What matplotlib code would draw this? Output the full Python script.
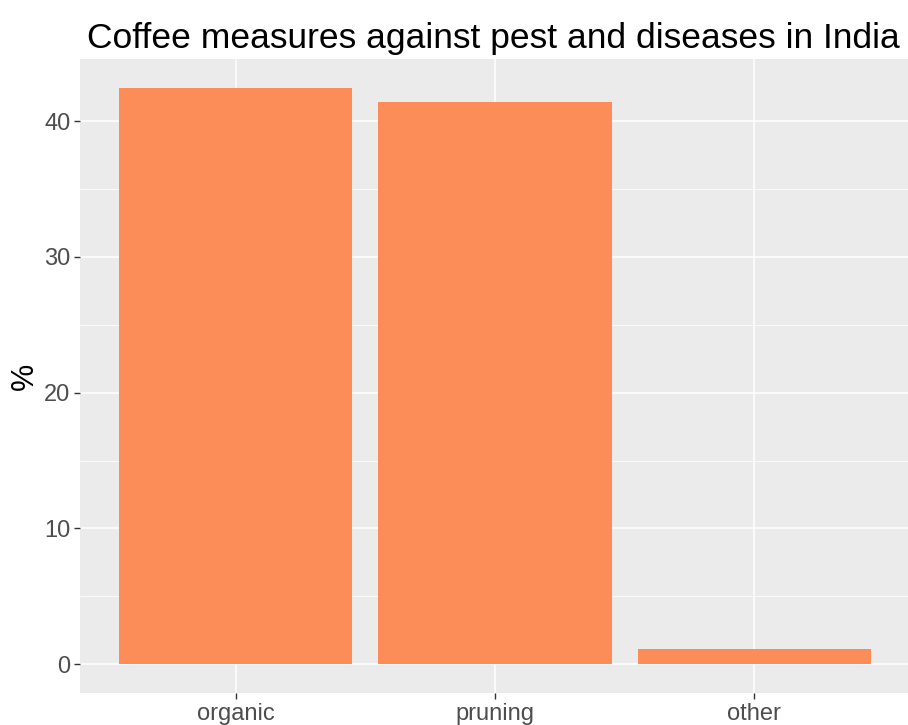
import matplotlib.pyplot as plt
import numpy as np

plt.rcParams['font.family'] = ['Liberation Sans', 'DejaVu Sans']

categories = ['organic', 'pruning', 'other']
values = [42.46, 41.45, 1.13]

fig = plt.figure(figsize=(9.08, 7.25), dpi=100)
ax = fig.add_axes([80 / 908, 1 - 693 / 725, 830 / 908, (693 - 59) / 725])

x = np.arange(len(categories))
ax.set_facecolor('#EBEBEB')
ax.bar(x, values, width=0.9, color='#FC8D59', zorder=3)

ax.set_xlim(-0.6, 2.6)
ax.set_ylim(-0.05 * max(values), 1.05 * max(values))
ax.set_xticks(x)
ax.set_xticklabels(categories)
ax.set_yticks([0, 10, 20, 30, 40])
ax.set_yticks([5, 15, 25, 35], minor=True)

ax.grid(which='major', color='white', linewidth=1.1, zorder=0)
ax.grid(which='minor', axis='y', color='white', linewidth=0.55, zorder=0)
ax.set_axisbelow(True)
for s in ax.spines.values():
    s.set_visible(False)

ax.tick_params(axis='both', which='major', length=4, color='#333333', width=1,
               labelsize=17, labelcolor='#4D4D4D', pad=3)
ax.tick_params(axis='y', which='minor', length=0)

ax.set_ylabel('%', fontsize=22, color='black')
ax.yaxis.set_label_coords(-0.067, 0.5)
ax.yaxis.label.set_va('center')
ax.set_title('Coffee measures against pest and diseases in India',
             fontsize=25.5, color='black', loc='left', x=0.008, pad=8)

fig.savefig('out.png', dpi=100)
